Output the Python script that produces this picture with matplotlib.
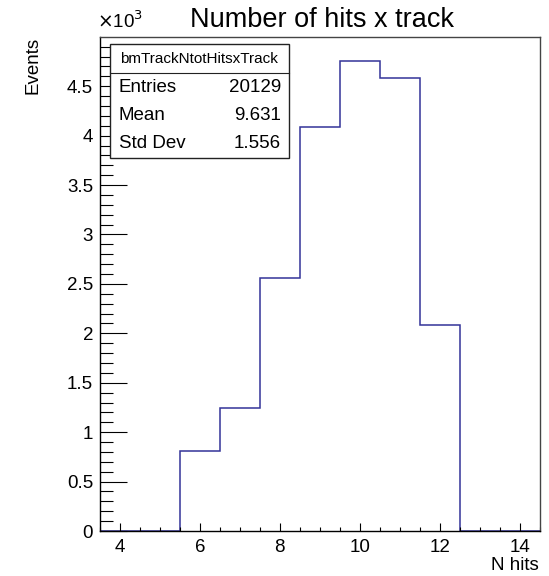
import numpy as np
import matplotlib
matplotlib.use("Agg")
import matplotlib.pyplot as plt
from matplotlib.ticker import MultipleLocator, FuncFormatter
from matplotlib.patches import Rectangle
from matplotlib.lines import Line2D

plt.rcParams['font.family'] = ['Liberation Sans', 'DejaVu Sans']

# histogram contents (bin centres = number of hits)
n_hits = [4, 5, 6, 7, 8, 9, 10, 11, 12, 13, 14]
counts = [0, 0, 808, 1243, 2558, 4088, 4757, 4582, 2083, 0, 0]

stats_name = "bmTrackNtotHitsxTrack"
stats_rows = [("Entries", "20129"), ("Mean", "9.631"), ("Std Dev", "1.556")]

W, H = 549, 576
fig = plt.figure(figsize=(W / 100, H / 100), dpi=100)

def fx(px):
    return px / W

def fy(py):
    return 1 - py / H

ax_l, ax_r, ax_t, ax_b = 100, 539.5, 37.3, 531
ax = fig.add_axes([fx(ax_l), fy(ax_b), fx(ax_r - ax_l), (ax_b - ax_t) / H])

centres = np.array(n_hits, dtype=float)
edges = np.append(centres - 0.5, centres[-1] + 0.5)
ax.stairs(counts, edges, color='#333399', linewidth=1.1)

ax.set_xlim(3.5, 14.5)
ax.set_ylim(0, max(counts) * 1.05)

ax.xaxis.set_major_locator(MultipleLocator(2))
ax.xaxis.set_minor_locator(MultipleLocator(0.5))
ax.yaxis.set_major_locator(MultipleLocator(500))
ax.yaxis.set_minor_locator(MultipleLocator(100))
ax.yaxis.set_major_formatter(FuncFormatter(lambda v, p: "%g" % (v / 1000)))

ax.tick_params(axis='both', which='both', direction='in', labelsize=13.5,
               width=0.8, colors='black')
ax.tick_params(axis='x', which='major', length=6, pad=6)
ax.tick_params(axis='x', which='minor', length=3)
ax.tick_params(axis='y', which='major', length=19.5, pad=5)
ax.tick_params(axis='y', which='minor', length=9.5)
for s in ['top', 'right']:
    ax.spines[s].set_color('#444444')
for s in ax.spines.values():
    s.set_linewidth(1.0)

fig.text(fx(322), fy(20), "Number of hits x track", ha='center', va='center',
         fontsize=19.5)
fig.text(fx(539), fy(566), "N hits", ha='right', va='center', fontsize=13.5)
fig.text(fx(33), fy(37), "Events", ha='center', va='top', rotation=90,
         fontsize=13.5)
fig.text(fx(97), fy(21), r"$\times$10$^{3}$", ha='left', va='center',
         fontsize=13.5)

# stats box
bx_l, bx_r, bx_t, bx_b = 109.5, 289, 44, 158
div_y = 73
fig.patches.append(Rectangle((fx(bx_l), fy(bx_b)), fx(bx_r - bx_l),
                             (bx_b - bx_t) / H, transform=fig.transFigure,
                             facecolor='white', edgecolor='#222222',
                             linewidth=1.0, zorder=5))
fig.lines.append(Line2D([fx(bx_l), fx(bx_r)], [fy(div_y), fy(div_y)],
                        transform=fig.transFigure, color='#222222',
                        linewidth=0.8, zorder=6))
fig.text(fx((bx_l + bx_r) / 2), fy(59), stats_name, ha='center', va='center',
         fontsize=11, zorder=7)
row_y = [87, 115, 143]
for (k, v), yy in zip(stats_rows, row_y):
    fig.text(fx(119), fy(yy), k, ha='left', va='center', fontsize=13.5,
             zorder=7)
    fig.text(fx(281), fy(yy), v, ha='right', va='center', fontsize=13.5,
             zorder=7)

fig.savefig("out.png", dpi=100)
